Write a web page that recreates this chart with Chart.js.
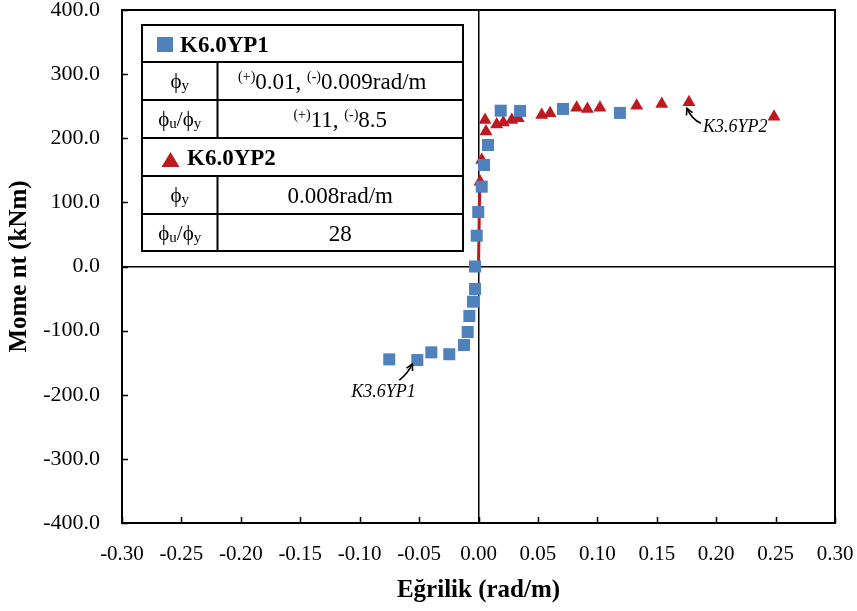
<!DOCTYPE html>
<html>
<head>
<meta charset="utf-8">
<script src="https://cdn.jsdelivr.net/npm/chart.js@4.4.1/dist/chart.umd.min.js"></script>
<style>
  html, body { margin: 0; padding: 0; background: #fff; }
  #wrap { width: 857px; height: 611px; position: relative; }
</style>
</head>
<body>
<div id="wrap"><canvas id="c"></canvas></div>
<script>
// Moment–curvature data for the two specimens
const yp1Curvature = [-0.0751, -0.0515, -0.0397, -0.0246, -0.0122, -0.0091, -0.0077, -0.0046, -0.0029, -0.0029,
                      -0.0015, -0.0002, 0.0027, 0.0046, 0.0080, 0.0187, 0.0350, 0.0711, 0.1190];
const yp1Moment    = [-144.8, -145.9, -133.9, -136.8, -122.5, -102.2, -77.2, -54.9, -35.1, 0.0,
                      48.0, 85.0, 124.5, 158.3, 189.5, 243.0, 242.6, 245.7, 239.5];

const yp2Curvature = [0.0013, 0.0027, 0.0055, 0.0063, 0.0153, 0.0209, 0.0280, 0.0335, 0.0532, 0.0602,
                      0.0826, 0.0916, 0.1022, 0.1331, 0.1542, 0.1771, 0.2487];
const yp2Moment    = [132.3, 166.0, 228.5, 210.6, 221.6, 224.7, 228.5, 231.0, 236.3, 238.8,
                      247.7, 245.7, 247.7, 250.8, 253.5, 256.0, 233.7];

// Initial elastic branch of K6.0YP2
const yp2InitCurvature = [0.0, 0.0008, 0.0013];
const yp2InitMoment    = [0.0, 100.0, 132.3];

// Axis ticks
const xTicks = [-0.30, -0.25, -0.20, -0.15, -0.10, -0.05, 0.00, 0.05, 0.10, 0.15, 0.20, 0.25, 0.30];
const yTicks = [-400, -300, -200, -100, 0, 100, 200, 300, 400];

// Summary table contents
const tableSeries = ['K6.0YP1', 'K6.0YP2'];
const yp1PhiY = ['0.01, ', '0.009rad/m'];
const yp1Ductility = ['11, ', '8.5'];
const yp2PhiY = '0.008rad/m';
const yp2Ductility = '28';

// Point annotations
const labelYP1 = 'K3.6YP1';
const labelYP2 = 'K3.6YP2';

const BLUE = '#4F81BD';
const RED = '#C0181F';
const SERIF = "'Liberation Serif', 'Times New Roman', serif";

const zip = (xs, ys) => xs.map((x, i) => ({ x, y: ys[i] }));

function richWidth(ctx, segs) {
  let w = 0;
  segs.forEach(s => { ctx.font = (s.style || '') + ' ' + s.size + 'px ' + SERIF; w += ctx.measureText(s.t).width; });
  return w;
}
function drawRich(ctx, segs, x, y, align) {
  let cx = align === 'center' ? x - richWidth(ctx, segs) / 2 : x;
  ctx.textBaseline = 'alphabetic';
  ctx.textAlign = 'left';
  segs.forEach(s => {
    ctx.font = (s.style || '') + ' ' + s.size + 'px ' + SERIF;
    ctx.fillText(s.t, cx, y + (s.dy || 0));
    cx += ctx.measureText(s.t).width;
  });
}

function arrow(ctx, pts) {
  ctx.beginPath();
  ctx.moveTo(pts[0][0], pts[0][1]);
  ctx.quadraticCurveTo(pts[1][0], pts[1][1], pts[2][0], pts[2][1]);
  ctx.stroke();
  const [hx, hy] = pts[2];
  const ang = Math.atan2(pts[2][1] - pts[1][1], pts[2][0] - pts[1][0]);
  const L = 7, spread = 0.5;
  ctx.beginPath();
  ctx.moveTo(hx - L * Math.cos(ang - spread), hy - L * Math.sin(ang - spread));
  ctx.lineTo(hx, hy);
  ctx.lineTo(hx - L * Math.cos(ang + spread), hy - L * Math.sin(ang + spread));
  ctx.stroke();
}

// Keep the plot frame fixed: no extra inset for overhanging tick labels
function noOverhang(s) {
  s.paddingTop = 0; s.paddingBottom = 0; s.paddingLeft = 0; s.paddingRight = 0;
}

const decorPlugin = {
  id: 'decor',
  beforeDatasetsDraw(chart) {
    const { ctx, chartArea: a, scales: { x, y } } = chart;
    ctx.save();
    ctx.strokeStyle = '#000';
    ctx.lineWidth = 2;
    ctx.strokeRect(a.left, a.top, a.right - a.left, a.bottom - a.top);
    ctx.lineWidth = 1.5;
    ctx.beginPath();
    xTicks.forEach(v => { const px = Math.round(x.getPixelForValue(v)) + 0.5; ctx.moveTo(px, a.bottom); ctx.lineTo(px, a.bottom - 6); });
    yTicks.forEach(v => { const py = Math.round(y.getPixelForValue(v)) + 0.5; ctx.moveTo(a.left, py); ctx.lineTo(a.left + 6, py); });
    ctx.stroke();
    ctx.restore();
  },
  afterDraw(chart) {
    const { ctx, scales: { x, y } } = chart;
    ctx.save();
    // Summary table
    const L = 142, R = 463, C = 217.5;
    const rows = [25, 62, 100, 138, 176, 214, 251];
    ctx.fillStyle = '#fff';
    ctx.fillRect(L, rows[0], R - L, rows[6] - rows[0]);
    ctx.strokeStyle = '#000';
    ctx.lineWidth = 2;
    ctx.strokeRect(L, rows[0], R - L, rows[6] - rows[0]);
    ctx.beginPath();
    for (let i = 1; i < 6; i++) { ctx.moveTo(L, rows[i]); ctx.lineTo(R, rows[i]); }
    ctx.moveTo(C, rows[1]); ctx.lineTo(C, rows[3]);
    ctx.moveTo(C, rows[4]); ctx.lineTo(C, rows[6]);
    ctx.stroke();

    ctx.fillStyle = '#000';
    const c1 = (L + C) / 2, c2 = (C + R) / 2;
    const base = i => (rows[i] + rows[i + 1]) / 2 + 7;
    // header rows
    ctx.fillStyle = BLUE;
    ctx.fillRect(157, 37, 16, 15);
    ctx.fillStyle = '#000';
    drawRich(ctx, [{ t: tableSeries[0], size: 23, style: 'bold' }], 180, base(0) + 1, 'left');
    ctx.fillStyle = RED;
    ctx.beginPath();
    ctx.moveTo(161.5, 167); ctx.lineTo(179.5, 167); ctx.lineTo(170.5, 152); ctx.closePath(); ctx.fill();
    ctx.fillStyle = '#000';
    drawRich(ctx, [{ t: tableSeries[1], size: 23, style: 'bold' }], 187, base(3) + 1, 'left');

    const phiY = [{ t: 'ϕ', size: 21 }, { t: 'y', size: 15, dy: 2 }];
    const phiRatio = [{ t: 'ϕ', size: 21 }, { t: 'u', size: 15, dy: 2 }, { t: '/', size: 21 }, { t: 'ϕ', size: 21 }, { t: 'y', size: 15, dy: 2 }];
    drawRich(ctx, phiY, c1, base(1), 'center');
    drawRich(ctx, phiRatio, c1, base(2), 'center');
    drawRich(ctx, phiY, c1, base(4), 'center');
    drawRich(ctx, phiRatio, c1, base(5), 'center');

    drawRich(ctx, [{ t: '(+)', size: 14, dy: -8 }, { t: yp1PhiY[0], size: 23 }, { t: '(-)', size: 14, dy: -8 }, { t: yp1PhiY[1], size: 23 }], c2 - 8, base(1) + 1, 'center');
    drawRich(ctx, [{ t: '(+)', size: 14, dy: -8 }, { t: yp1Ductility[0], size: 23 }, { t: '(-)', size: 14, dy: -8 }, { t: yp1Ductility[1], size: 23 }], c2, base(2) + 1, 'center');
    drawRich(ctx, [{ t: yp2PhiY, size: 23 }], c2, base(4) + 1, 'center');
    drawRich(ctx, [{ t: yp2Ductility, size: 23 }], c2, base(5) + 1, 'center');

    // Point annotations with curved arrows
    ctx.lineWidth = 1.6;
    ctx.strokeStyle = '#000';
    const p1x = x.getPixelForValue(yp1Curvature[1]), p1y = y.getPixelForValue(yp1Moment[1]);
    arrow(ctx, [[p1x - 18, p1y + 20], [p1x - 10, p1y + 14], [p1x - 5, p1y + 4]]);
    ctx.fillStyle = '#000';
    drawRich(ctx, [{ t: labelYP1, size: 18, style: 'italic' }], p1x - 66, p1y + 37, 'left');

    const p2x = x.getPixelForValue(yp2Curvature[15]), p2y = y.getPixelForValue(yp2Moment[15]);
    arrow(ctx, [[p2x + 12, p2y + 21], [p2x + 3, p2y + 17], [p2x - 2, p2y + 6]]);
    drawRich(ctx, [{ t: labelYP2, size: 18, style: 'italic' }], p2x + 14, p2y + 30, 'left');
    ctx.restore();
  }
};

const isZero = v => Math.abs(v) < 1e-9;

new Chart(document.getElementById('c'), {
  type: 'scatter',
  data: {
    datasets: [
      {
        label: 'K6.0YP2 elastic',
        data: zip(yp2InitCurvature, yp2InitMoment),
        showLine: true,
        borderColor: RED,
        borderWidth: 3,
        pointRadius: 0,
        order: 3
      },
      {
        label: tableSeries[1],
        data: zip(yp2Curvature, yp2Moment),
        pointStyle: 'triangle',
        pointRadius: 7.5,
        backgroundColor: RED,
        borderColor: RED,
        borderWidth: 0,
        order: 2
      },
      {
        label: tableSeries[0],
        data: zip(yp1Curvature, yp1Moment),
        pointStyle: 'rect',
        pointRadius: 8.5,
        backgroundColor: BLUE,
        borderColor: BLUE,
        borderWidth: 0,
        order: 1
      }
    ]
  },
  options: {
    responsive: true,
    maintainAspectRatio: false,
    animation: false,
    layout: { padding: { top: 10, right: 22, left: 0, bottom: 0 } },
    plugins: { legend: { display: false }, tooltip: { enabled: false } },
    scales: {
      x: {
        type: 'linear',
        min: -0.3, max: 0.3,
        afterFit: s => { s.height = 88; noOverhang(s); },
        afterBuildTicks: s => { s.ticks = xTicks.map(v => ({ value: v })); },
        ticks: {
          padding: 19,
          color: '#000',
          font: { family: SERIF, size: 21 },
          callback: v => isZero(v) ? '0.00' : Number(v).toFixed(2)
        },
        grid: {
          drawTicks: false,
          lineWidth: 1.5,
          color: c => (c.tick && isZero(c.tick.value)) ? '#000' : 'rgba(0,0,0,0)'
        },
        border: { display: false },
        title: {
          display: true,
          text: 'Eğrilik (rad/m)',
          color: '#000',
          font: { family: SERIF, size: 25, weight: 'bold' },
          padding: { top: 0, bottom: 5 }
        }
      },
      y: {
        type: 'linear',
        min: -400, max: 400,
        afterFit: s => { s.width = 122; noOverhang(s); },
        afterBuildTicks: s => { s.ticks = yTicks.map(v => ({ value: v })); },
        ticks: {
          padding: 22,
          color: '#000',
          font: { family: SERIF, size: 22 },
          callback: v => Number(v).toFixed(1)
        },
        grid: {
          drawTicks: false,
          lineWidth: 1.5,
          color: c => (c.tick && isZero(c.tick.value)) ? '#000' : 'rgba(0,0,0,0)'
        },
        border: { display: false },
        title: {
          display: true,
          text: 'Mome nt (kNm)',
          color: '#000',
          font: { family: SERIF, size: 25, weight: 'bold' },
          padding: { top: 5, bottom: 0 }
        }
      }
    }
  },
  plugins: [decorPlugin]
});
</script>
</body>
</html>
